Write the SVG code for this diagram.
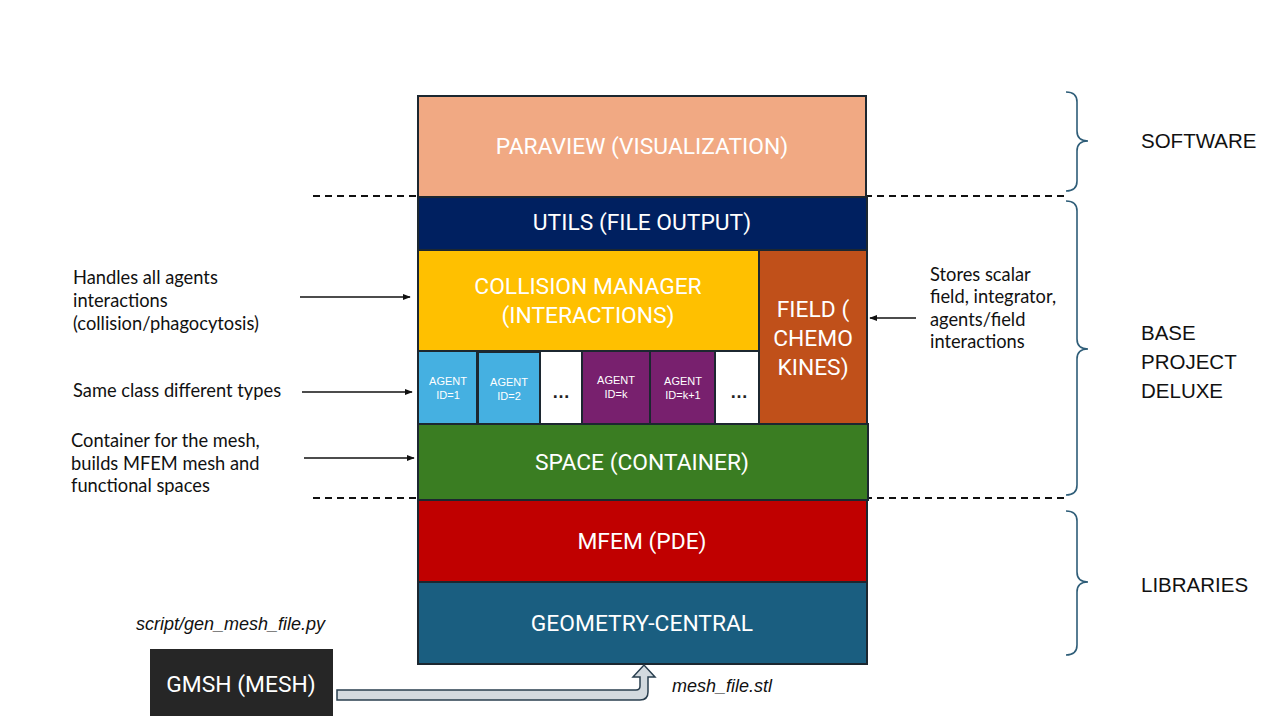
<svg xmlns="http://www.w3.org/2000/svg" width="1280" height="720" viewBox="0 0 1280 720">
<style>
.box{stroke:#1c2730;stroke-width:2}
.lbl{font-family:Roboto,"Liberation Sans",sans-serif;font-size:22.8px;fill:#ffffff;text-anchor:middle}
.ag{font-family:"Liberation Sans",Arial,sans-serif;font-size:11px;fill:#ffffff;text-anchor:middle}
.note{font-family:Lato,"Noto Sans",sans-serif;font-size:18.3px;fill:#111111}
.it{font-family:"Liberation Sans",Arial,sans-serif;font-size:18px;font-style:italic;fill:#111111}
.side{font-family:"Liberation Sans",Arial,sans-serif;font-size:20.5px;fill:#111111}
.dash{stroke:#111;stroke-width:2;stroke-dasharray:7,5;fill:none}
.brace{stroke:#2e5d78;stroke-width:1.6;fill:none}
.arr{stroke:#111;stroke-width:1.6;fill:none;marker-end:url(#ah)}
.dots{font-family:"Liberation Sans",Arial,sans-serif;font-size:18px;font-weight:bold;fill:#222;text-anchor:middle}
</style>
<defs>
<marker id="ah" viewBox="0 0 10 10" refX="9" refY="5" markerWidth="5" markerHeight="5" orient="auto">
<path d="M0,1 L10,5 L0,9 Z" fill="#111"/>
</marker>
</defs>
<rect width="1280" height="720" fill="#ffffff"/>

<g id="separators">
<line class="dash" x1="313" y1="196" x2="1068" y2="196"/>
<line class="dash" x1="313" y1="498" x2="1068" y2="498"/>
</g>

<g id="paraview"><rect class="box" x="418" y="96" width="448" height="101" fill="#F1A983"/><text class="lbl" x="642" y="154" fill="#FBF1EA">PARAVIEW (VISUALIZATION)</text></g>
<g id="utils"><rect class="box" x="418" y="197" width="449" height="53" fill="#002060"/><text class="lbl" x="642" y="230">UTILS (FILE OUTPUT)</text></g>
<g id="collision"><rect class="box" x="418" y="250" width="341" height="101" fill="#FFC000"/><text class="lbl" x="588" y="294">COLLISION MANAGER</text><text class="lbl" x="588" y="323">(INTERACTIONS)</text></g>
<g id="field"><rect class="box" x="759" y="250" width="108" height="174" fill="#C0501A"/><text class="lbl" x="813" y="317">FIELD  (</text><text class="lbl" x="813" y="346">CHEMO</text><text class="lbl" x="813" y="375">KINES)</text></g>
<g id="agent1"><rect class="box" x="418" y="351" width="59" height="73" fill="#45B0E1"/><text class="ag" x="448" y="385">AGENT</text><text class="ag" x="448" y="399">ID=1</text></g>
<g id="agent2"><rect class="box" x="478" y="352" width="62" height="72" fill="#45B0E1"/><text class="ag" x="509" y="386">AGENT</text><text class="ag" x="509" y="400">ID=2</text></g>
<g id="dots1"><rect class="box" x="540" y="351" width="42" height="73" fill="#ffffff"/><text class="dots" x="561" y="398">…</text></g>
<g id="agentk"><rect class="box" x="582" y="351" width="68" height="73" fill="#78206E"/><text class="ag" x="616" y="384">AGENT</text><text class="ag" x="616" y="398">ID=k</text></g>
<g id="agentk1"><rect class="box" x="650" y="351" width="65" height="73" fill="#78206E"/><text class="ag" x="683" y="385">AGENT</text><text class="ag" x="683" y="399">ID=k+1</text></g>
<g id="dots2"><rect class="box" x="715" y="351" width="44" height="73" fill="#ffffff"/><text class="dots" x="739" y="398">…</text></g>
<g id="space"><rect class="box" x="418" y="424" width="450" height="76" fill="#3A7D22"/><text class="lbl" x="642" y="470">SPACE (CONTAINER)</text></g>
<g id="mfem"><rect class="box" x="418" y="500" width="449" height="82" fill="#C00000"/><text class="lbl" x="642" y="549">MFEM (PDE)</text></g>
<g id="geometry"><rect class="box" x="418" y="582" width="449" height="82" fill="#1A5E80"/><text class="lbl" x="642" y="631">GEOMETRY-CENTRAL</text></g>
<g id="gmsh"><rect x="150" y="649" width="183" height="67" fill="#262626"/><text class="lbl" x="241" y="692">GMSH (MESH)</text></g>

<g id="connectors">
<line class="arr" x1="300" y1="297" x2="410" y2="297"/>
<line class="arr" x1="302" y1="392" x2="412" y2="392"/>
<line class="arr" x1="304" y1="458" x2="414" y2="458"/>
<line class="arr" x1="916" y1="318" x2="870" y2="318"/>
<path d="M337,690 L636,690 Q640,690 640,686 L640,677 L633,677 L644,665 L655,677 L648,677 L648,692 Q648,700 640,700 L337,700 Z" fill="#D3DADF" stroke="#2a3f4f" stroke-width="1.5"/>
</g>

<g id="annotations">
<text class="note" x="73" y="284">Handles all agents</text>
<text class="note" x="73" y="307">interactions</text>
<text class="note" x="73" y="330">(collision/phagocytosis)</text>
<text class="note" x="73" y="397">Same class different types</text>
<text class="note" x="71" y="447">Container for the mesh,</text>
<text class="note" x="71" y="470">builds MFEM mesh and</text>
<text class="note" x="71" y="492">functional spaces</text>
<text class="note" x="930" y="281">Stores scalar</text>
<text class="note" x="930" y="303">field, integrator,</text>
<text class="note" x="930" y="326">agents/field</text>
<text class="note" x="930" y="348">interactions</text>
<text class="it" x="136" y="630">script/gen_mesh_file.py</text>
<text class="it" x="672" y="692">mesh_file.stl</text>
</g>

<g id="braces">
<path class="brace" d="M1066,92 Q1077,92 1077,102 L1077,131 Q1077,141 1088,141 Q1077,141 1077,151 L1077,181 Q1077,191 1066,191"/>
<path class="brace" d="M1066,201 Q1077,201 1077,211 L1077,339 Q1077,349 1088,349 Q1077,349 1077,359 L1077,485 Q1077,495 1066,495"/>
<path class="brace" d="M1066,511 Q1077,511 1077,521 L1077,572 Q1077,582 1088,582 Q1077,582 1077,592 L1077,645 Q1077,655 1066,655"/>
<text class="side" x="1141" y="148">SOFTWARE</text>
<text class="side" x="1141" y="340">BASE</text>
<text class="side" x="1141" y="369">PROJECT</text>
<text class="side" x="1141" y="398">DELUXE</text>
<text class="side" x="1141" y="592">LIBRARIES</text>
</g>
</svg>
